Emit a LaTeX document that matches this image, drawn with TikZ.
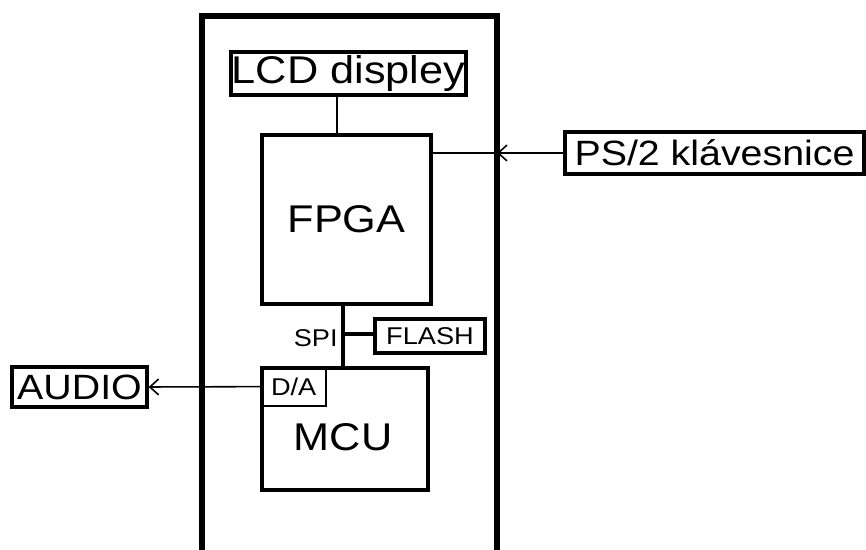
\documentclass[tikz,border=0pt]{standalone}
\usepackage{fontspec}
\setmainfont{Liberation Sans}[FakeStretch=1.12]
\usetikzlibrary{arrows.meta, positioning, calc}

\begin{document}
\begin{tikzpicture}[
    x=0.02cm, y=-0.02cm,
    box/.style={rectangle, draw=black, line width=1.9pt, inner sep=0pt, align=center},
    thinbox/.style={rectangle, draw=black, line width=0.9pt, inner sep=0pt, align=center},
    bigtext/.style={font=\fontsize{22pt}{24pt}\selectfont},
    midtext/.style={font=\fontsize{20pt}{22pt}\selectfont},
    smalltext/.style={font=\fontsize{13.8pt}{16pt}\selectfont},
    wire/.style={draw=black, line width=0.9pt},
    bus/.style={draw=black, line width=1.9pt},
    sig/.style={wire, -{Straight Barb[length=5pt, width=9pt, line width=0.9pt]}}]
\useasboundingbox (0,0) rectangle (866,550);
% board outline, open at the bottom
\draw[line width=2.9pt] (202,552) -- (202,16) -- (497,16) -- (497,552);
% blocks
\node[box, bigtext, minimum width=4.70cm, minimum height=0.86cm] (lcd) at (348.5,73.5) {LCD displey};
\node[box, bigtext, minimum width=3.38cm, minimum height=3.38cm] (fpga) at (346.5,219.5) {FPGA};
\node[box, midtext, minimum width=5.98cm, minimum height=0.84cm] (ps2) at (714.5,153) {PS/2 klávesnice};
\node[box, midtext, minimum width=2.70cm, minimum height=0.80cm] (audio) at (79.5,387) {AUDIO};
\node[box, minimum width=3.32cm, minimum height=2.44cm] (mcu) at (345,429) {};
\node[bigtext] (mcutext) at ($(mcu.center)+(-2,8)$) {MCU};
\node[thinbox, smalltext, minimum width=1.30cm, minimum height=0.78cm, anchor=north west] (da) at (mcu.north west) {D/A};
\node[box, smalltext, minimum width=2.20cm, minimum height=0.68cm] (flash) at (430,336) {FLASH};
% connections
\coordinate (lcdtap) at (337,95);
\draw[wire] (lcdtap) -- (lcdtap |- fpga.north);
\coordinate (kbin) at (497,153);
\draw[sig] (ps2.west) -- (kbin);
\draw[wire] (kbin) -- (kbin -| fpga.east);
\coordinate (spi) at (343,334);
\draw[bus] (spi |- fpga.south) -- (spi |- mcu.north);
\draw[bus] (spi) -- (spi -| flash.west);
\node[smalltext, inner sep=0pt, anchor=east] (spilabel) at (338,338) {SPI};
\draw[sig] (da.west) -- (audio.east);
\end{tikzpicture}
\end{document}
